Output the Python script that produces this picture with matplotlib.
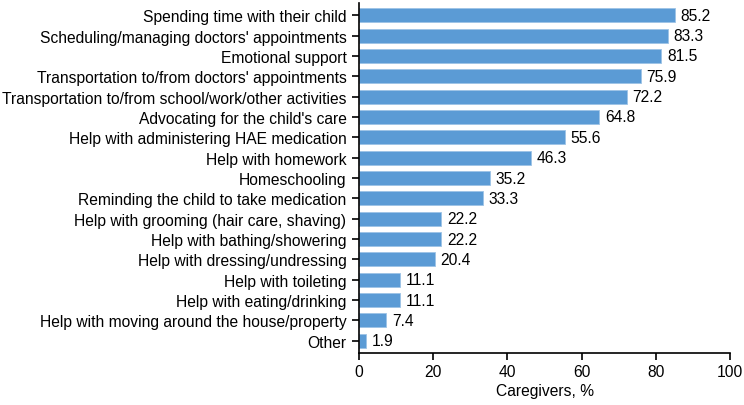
import matplotlib
matplotlib.use('Agg')
import matplotlib.pyplot as plt

plt.rcParams['font.family'] = ['Liberation Sans', 'DejaVu Sans']

categorias = [
    'Spending time with their child',
    "Scheduling/managing doctors' appointments",
    'Emotional support',
    "Transportation to/from doctors' appointments",
    'Transportation to/from school/work/other activities',
    "Advocating for the child's care",
    'Help with administering HAE medication',
    'Help with homework',
    'Homeschooling',
    'Reminding the child to take medication',
    'Help with grooming (hair care, shaving)',
    'Help with bathing/showering',
    'Help with dressing/undressing',
    'Help with toileting',
    'Help with eating/drinking',
    'Help with moving around the house/property',
    'Other',
]
valores = [85.2, 83.3, 81.5, 75.9, 72.2, 64.8, 55.6, 46.3, 35.2, 33.3,
           22.2, 22.2, 20.4, 11.1, 11.1, 7.4, 1.9]
xticks = [0, 20, 40, 60, 80, 100]

fs = 11.25
fig = plt.figure(figsize=(7.44, 4.06), dpi=100)
# ejes ubicados a mano para que coincidan con la referencia
ax = fig.add_axes([359 / 744, 1 - 354 / 406, (730 - 359) / 744, (354 - 4) / 406])

pos = list(range(len(categorias)))
ax.barh(pos, valores, height=0.69, color='#5B9BD5', edgecolor='#9DC3E6', linewidth=0.6)
for p, v in zip(pos, valores):
    ax.text(v + 1.5, p, f'{v:.1f}', va='center', ha='left', fontsize=fs)

ax.set_yticks(pos)
ax.set_yticklabels(categorias, fontsize=fs)
ax.set_ylim(len(categorias) - 0.4, -0.6)
ax.set_xlim(0, 100)
ax.set_xticks(xticks)
ax.tick_params(axis='x', labelsize=fs, length=5, width=1.2, pad=3)
ax.tick_params(axis='y', length=5, width=1.2, pad=4)
ax.set_xlabel('Caregivers, %', fontsize=fs, labelpad=3)
for s in ['top', 'right']:
    ax.spines[s].set_visible(False)
for s in ['left', 'bottom']:
    ax.spines[s].set_linewidth(1.2)

fig.savefig('out.png', dpi=100)
